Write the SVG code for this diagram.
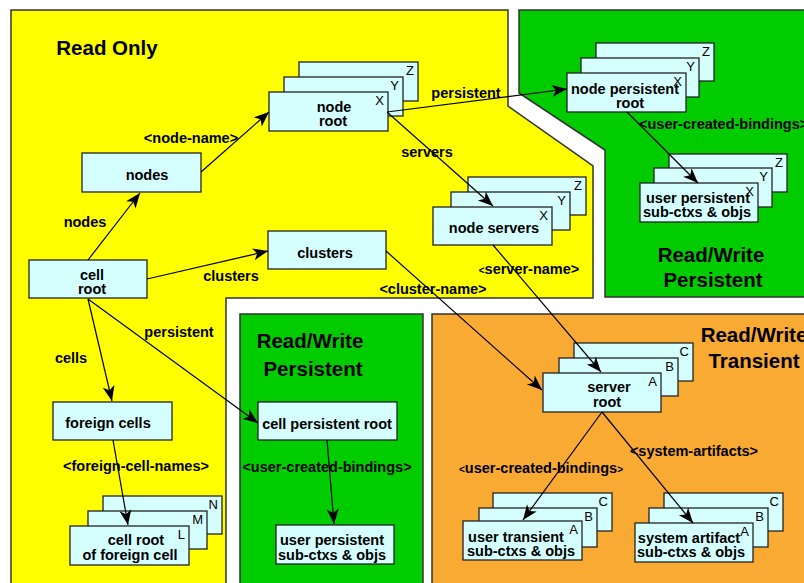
<svg xmlns="http://www.w3.org/2000/svg" width="804" height="583" viewBox="0 0 804 583">
<style>
.reg{stroke:#333;stroke-width:1.5}
.y{fill:#ffff00}.g{fill:#00cc00}.o{fill:#f9aa33}
.box{fill:#d5ffff;stroke:#222;stroke-width:1.3}
text{font-family:"Liberation Sans",Arial,Helvetica,sans-serif;fill:#000}
.t{font-size:14.5px;font-weight:bold;text-anchor:middle}
.l{font-size:14.5px;font-weight:bold;text-anchor:middle}
.h{font-size:20.5px;font-weight:bold;text-anchor:middle}
.k{font-size:13px;text-anchor:end}
.sm{font-size:10px}
.e{fill:none;stroke:#000;stroke-width:1.2;marker-end:url(#ah)}
</style>
<defs>
<marker id="ah" viewBox="-16 -7 17 14" refX="0" refY="0" markerWidth="17" markerHeight="14" markerUnits="userSpaceOnUse" orient="auto">
<path d="M0,0 L-15,-6 L-11,0 L-15,6 Z" fill="#000"/>
</marker>
</defs>
<rect width="804" height="583" fill="#fff"/>
<g id="regions">
<polygon class="reg y" points="11,10 508,10 508,106 593,166 593,298 226,298 226,592 11,592"/>
<polygon class="reg g" points="519,10 812,10 812,297 605,297 605,150 519,93"/>
<rect class="reg g" x="240" y="314" width="183" height="280"/>
<rect class="reg o" x="432" y="314" width="380" height="280"/>
<text class="h" x="107" y="55">Read Only</text>
<text class="h" x="711" y="262">Read/Write</text>
<text class="h" x="713" y="287">Persistent</text>
<text class="h" x="310" y="348">Read/Write</text>
<text class="h" x="313" y="376">Persistent</text>
<text class="h" x="754" y="342">Read/Write</text>
<text class="h" x="754" y="368">Transient</text>
</g>
<g id="node-nodes"><rect class="box" x="82" y="153" width="119" height="39"/><text class="t" x="147" y="180">nodes</text></g>
<g id="node-cellroot"><rect class="box" x="29" y="260" width="118" height="38"/><text class="t" x="92" y="280">cell</text><text class="t" x="92" y="294">root</text></g>
<g id="node-clusters"><rect class="box" x="268" y="231" width="118" height="38"/><text class="t" x="325" y="258">clusters</text></g>
<g id="node-noderoot">
<rect class="box" x="299" y="62" width="119" height="39"/><text class="k" x="414" y="75">Z</text>
<rect class="box" x="284" y="77" width="119" height="39"/><text class="k" x="399" y="90">Y</text>
<rect class="box" x="269" y="92" width="119" height="39"/><text class="k" x="384" y="105">X</text>
<text class="t" x="334" y="112">node</text><text class="t" x="333" y="126">root</text>
</g>
<g id="node-nodeservers">
<rect class="box" x="468" y="177" width="118" height="38"/><text class="k" x="582" y="190">Z</text>
<rect class="box" x="451" y="192" width="119" height="38"/><text class="k" x="566" y="205">Y</text>
<rect class="box" x="433" y="207" width="119" height="38"/><text class="k" x="548" y="220">X</text>
<text class="t" x="494" y="233">node servers</text>
</g>
<g id="node-nodepersistentroot">
<rect class="box" x="596" y="43" width="118" height="38"/><text class="k" x="710" y="56">Z</text>
<rect class="box" x="581" y="58" width="118" height="39"/><text class="k" x="695" y="71">Y</text>
<rect class="box" x="567" y="73" width="119" height="39"/><text class="k" x="682" y="86">X</text>
<text class="t" x="625" y="94">node persistent</text><text class="t" x="630" y="108">root</text>
</g>
<g id="node-userpersistent-top">
<rect class="box" x="669" y="154" width="118" height="38"/><text class="k" x="783" y="167">Z</text>
<rect class="box" x="654" y="168" width="118" height="39"/><text class="k" x="768" y="181">Y</text>
<rect class="box" x="640" y="183" width="118" height="39"/><text class="k" x="754" y="196">X</text>
<text class="t" x="698" y="203">user persistent</text><text class="t" x="697" y="217">sub-ctxs &amp; objs</text>
</g>
<g id="node-foreigncells"><rect class="box" x="53" y="402" width="119" height="38"/><text class="t" x="108" y="428">foreign cells</text></g>
<g id="node-cellrootforeign">
<rect class="box" x="103" y="496" width="119" height="38"/><text class="k" x="218" y="509">N</text>
<rect class="box" x="88" y="511" width="119" height="38"/><text class="k" x="203" y="524">M</text>
<rect class="box" x="70" y="526" width="119" height="39"/><text class="k" x="185" y="539">L</text>
<text class="t" x="136" y="545">cell root</text><text class="t" x="130" y="560">of foreign cell</text>
</g>
<g id="node-cellpersistentroot"><rect class="box" x="258" y="402" width="139" height="38"/><text class="t" x="327" y="429">cell persistent root</text></g>
<g id="node-userpersistent-bottom"><rect class="box" x="276" y="525" width="118" height="39"/><text class="t" x="332" y="545">user persistent</text><text class="t" x="332" y="560">sub-ctxs &amp; objs</text></g>
<g id="node-serverroot">
<rect class="box" x="574" y="343" width="119" height="38"/><text class="k" x="689" y="356">C</text>
<rect class="box" x="559" y="358" width="119" height="38"/><text class="k" x="674" y="371">B</text>
<rect class="box" x="543" y="373" width="118" height="39"/><text class="k" x="657" y="386">A</text>
<text class="t" x="609" y="392">server</text><text class="t" x="607" y="407">root</text>
</g>
<g id="node-usertransient">
<rect class="box" x="493" y="493" width="119" height="38"/><text class="k" x="608" y="506">C</text>
<rect class="box" x="479" y="508" width="118" height="39"/><text class="k" x="593" y="521">B</text>
<rect class="box" x="463" y="521" width="119" height="39"/><text class="k" x="578" y="534">A</text>
<text class="t" x="516" y="542">user transient</text><text class="t" x="521" y="556">sub-ctxs &amp; objs</text>
</g>
<g id="node-systemartifact">
<rect class="box" x="664" y="493" width="119" height="38"/><text class="k" x="779" y="506">C</text>
<rect class="box" x="649" y="508" width="119" height="39"/><text class="k" x="764" y="521">B</text>
<rect class="box" x="635" y="523" width="118" height="39"/><text class="k" x="749" y="536">A</text>
<text class="t" x="689" y="543">system artifact</text><text class="t" x="691" y="557">sub-ctxs &amp; objs</text>
</g>
<g id="connectors">
<line class="e" x1="88" y1="260" x2="140" y2="193"/>
<line class="e" x1="201" y1="172" x2="269" y2="112"/>
<line class="e" x1="147" y1="279" x2="268" y2="251"/>
<line class="e" x1="387" y1="112" x2="567" y2="89"/>
<line class="e" x1="387" y1="112" x2="493" y2="206"/>
<line class="e" x1="627" y1="112" x2="698" y2="183"/>
<line class="e" x1="386" y1="251" x2="542" y2="390"/>
<line class="e" x1="493" y1="245" x2="601" y2="372"/>
<line class="e" x1="88" y1="299" x2="112" y2="401"/>
<line class="e" x1="88" y1="299" x2="258" y2="423"/>
<line class="e" x1="113" y1="440" x2="128" y2="525"/>
<line class="e" x1="327" y1="440" x2="334" y2="524"/>
<line class="e" x1="602" y1="412" x2="523" y2="520"/>
<line class="e" x1="602" y1="412" x2="693" y2="523"/>
<text class="l" x="191" y="143">&lt;node-name&gt;</text>
<text class="l" x="85" y="227">nodes</text>
<text class="l" x="231" y="281">clusters</text>
<text class="l" x="466" y="98">persistent</text>
<text class="l" x="427" y="157">servers</text>
<text class="l" x="529" y="274"><tspan class="sm">&lt;</tspan>server-name&gt;</text>
<text class="l" x="433" y="294">&lt;cluster-name&gt;</text>
<text class="l" x="639" y="129" style="text-anchor:start">&lt;user-created-bindings&gt;</text>
<text class="l" x="179" y="337">persistent</text>
<text class="l" x="71" y="363">cells</text>
<text class="l" x="136" y="471">&lt;foreign-cell-names&gt;</text>
<text class="l" x="327" y="472">&lt;user-created-bindings&gt;</text>
<text class="l" x="541" y="473"><tspan class="sm">&lt;</tspan>user-created-bindings<tspan class="sm">&gt;</tspan></text>
<text class="l" x="694" y="456">&lt;system-artifacts&gt;</text>
</g>
</svg>
